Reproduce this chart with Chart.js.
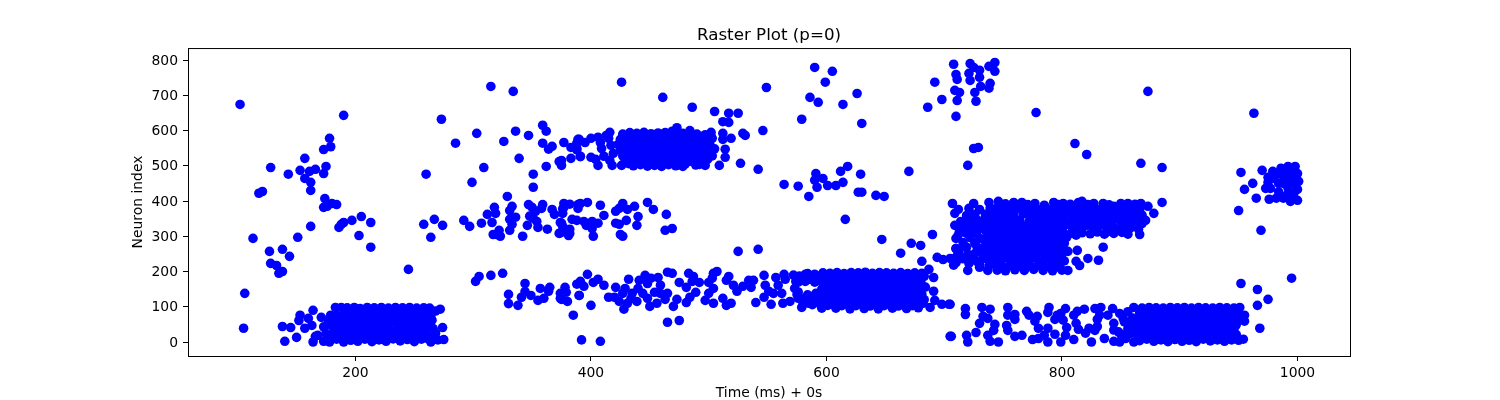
<!DOCTYPE html>
<html>
<head>
<meta charset="utf-8">
<title>Raster Plot</title>
<script src="https://cdn.jsdelivr.net/npm/chart.js@4"></script>
<style>
	body { margin: 0; background: #fff; }
	canvas { display: block; }
</style>
</head>
<body>
<canvas id="myChart" width="1500" height="400"></canvas>
<script>
// [time ms, neuron index]
const earlySpikes = [[102,674],[106,138],[105,39],[190,643],[273,632],[315,725],[334,711],[128,495],[143,476],[157,521],[153,487],[161,484],[166,490],[157,464],[162,453],[162,430],[173,478],[175,498],[173,546],[179,554],[178,578],[118,422],[121,427],[174,407],[173,382],[176,385],[184,390],[180,393],[162,328],[151,297],[113,294],[127,257],[138,263],[144,243],[128,223],[133,217],[135,195],[138,200],[186,325],[190,339],[188,334],[197,345],[205,356],[213,339],[203,302],[213,269],[245,206],[260,476],[258,334],[267,348],[274,331],[264,297]];
const upperDrift = [[285,564],[303,592],[326,569],[336,598],[347,586],[359,615],[362,598],[359,564],[364,547],[367,555],[377,566],[339,521],[309,495],[299,453],[351,476],[351,439],[362,498],[373,512],[375,515],[375,501],[383,521],[383,552],[388,564],[389,575],[388,545],[391,526],[390,575],[400,578],[406,581],[395,566],[388,549],[391,527],[400,524],[404,518],[406,501],[408,566],[409,549],[413,586],[416,595],[415,578],[411,527],[416,515],[418,501],[426,501],[419,535],[417,558],[426,737],[461,694],[486,666],[505,654],[517,649],[525,649],[512,625],[517,623],[549,722],[546,600],[529,592],[531,586],[527,507],[542,490],[519,578],[512,592],[512,575],[514,547],[514,524],[509,501],[497,501],[499,518]];
const middleBand = [[292,345],[297,328],[307,337],[316,339],[312,362],[319,365],[318,382],[317,305],[322,317],[320,305],[323,300],[331,317],[342,300],[333,334],[331,348],[336,354],[331,373],[333,385],[329,413],[346,331],[348,357],[347,390],[350,382],[353,371],[359,390],[358,379],[351,351],[354,342],[355,325],[363,320],[367,376],[369,362],[376,365],[377,393],[382,391],[377,382],[374,339],[376,328],[373,308],[377,320],[382,308],[382,320],[384,348],[388,345],[389,379],[391,393],[397,396],[408,388],[389,390],[376,378],[394,342],[401,342],[406,337],[411,359],[421,371],[427,393],[424,379],[431,376],[437,385],[448,396],[453,376],[440,356],[464,362],[421,337],[424,334],[430,345],[439,331],[463,317],[469,322],[425,305],[427,300],[402,300],[401,322],[396,331],[381,302],[375,337],[374,310]];
const lowerDrift = [[302,172],[305,186],[315,189],[325,195],[330,135],[330,109],[338,104],[344,166],[344,143],[341,127],[349,132],[355,118],[360,124],[357,152],[365,155],[364,144],[374,138],[378,155],[379,141],[375,121],[380,115],[385,76],[388,164],[390,132],[392,6],[408,2],[465,56],[475,61],[400,104],[390,132],[374,124],[391,172],[394,158],[397,192],[402,169],[406,178],[411,161],[415,127],[421,155],[420,127],[424,115],[428,93],[432,178],[429,152],[427,138],[431,110],[435,138],[434,124],[439,115],[441,175],[440,152],[446,189],[448,166],[444,138],[448,124],[450,101],[456,110],[454,141],[457,183],[451,181],[459,161],[465,198],[469,195],[465,138],[459,138],[463,121],[470,101],[473,121],[475,169],[481,155],[483,195],[487,186],[486,172],[492,169],[489,141],[484,127],[481,112],[497,118],[500,138],[504,152],[500,169],[503,181],[504,195],[504,110],[512,124],[515,104],[519,110],[507,200],[517,186],[515,175],[521,161],[524,144],[529,158],[534,175],[538,175],[536,155],[547,189],[548,161],[551,144],[547,127],[540,112],[553,107],[557,183],[564,192],[565,178],[559,161],[555,138],[562,138],[563,110],[569,115],[574,172],[579,98],[573,152],[575,135],[582,192],[591,189],[580,181],[579,124],[585,110],[596,96],[525,257],[542,263]];
const afterBurst = [[683,186],[687,206],[691,183],[691,144],[692,118],[688,98],[698,107],[704,107],[681,229],[705,16],[694,240],[699,234],[705,237],[710,229],[708,218],[663,252],[672,280],[680,274],[647,291],[690,305],[710,265],[564,447],[576,442],[585,413],[592,439],[591,478],[597,464],[590,459],[601,444],[608,444],[614,453],[612,484],[618,498],[629,476],[627,425],[630,425],[642,416],[649,413],[670,484],[616,348],[590,779],[605,768],[599,737],[586,694],[593,680],[614,674],[626,705],[579,632],[630,620],[686,666],[692,737],[698,688],[708,788],[722,790],[743,793],[738,782],[743,768],[725,779],[730,771],[721,762],[710,759],[711,745],[722,742],[730,751],[739,734],[738,720],[731,725],[726,708],[709,714],[713,708],[711,685],[727,683],[710,640],[778,651],[873,711],[963,649],[811,563],[821,532],[867,507],[885,495],[729,552],[725,549],[720,501],[885,396],[878,365],[871,345],[865,320],[866,305],[835,269],[831,232],[822,237],[813,260],[805,257],[815,217],[812,229],[805,203],[800,249]];
const lateSparse = [[705,107],[718,95],[718,78],[732,98],[739,93],[733,73],[730,53],[737,67],[743,50],[742,33],[727,27],[719,19],[720,0],[706,16],[737,19],[739,2],[746,0],[754,98],[754,76],[760,78],[760,64],[753,47],[754,33],[760,16],[766,19],[770,87],[772,76],[779,73],[777,59],[780,39],[789,98],[788,84],[775,7],[780,10],[785,19],[788,39],[794,22],[788,0],[799,0],[796,76],[794,64],[803,95],[799,81],[801,62],[804,41],[803,19],[810,7],[810,76],[813,87],[812,53],[814,36],[819,93],[828,95],[833,98],[832,76],[830,64],[820,25],[825,0],[823,39],[830,44],[836,10],[828,33],[843,95],[844,2],[849,0],[839,76],[844,53],[849,81],[852,67],[848,29],[861,98],[856,86],[853,57],[856,29],[861,0],[854,10],[844,34],[955,76],[955,59],[954,8],[951,98],[952,166],[966,149],[975,121],[966,104],[968,39],[995,181]];
const leftOfBurst = [[138,44],[145,41],[140,2],[150,13],[152,61],[153,76],[157,39],[160,67],[163,47],[164,90],[164,0],[166,16],[171,70],[173,43],[173,2],[178,0],[179,76],[168,19],[175,25],[181,43],[185,15],[190,0],[184,76],[187,58],[183,98],[188,98],[177,60],[182,28],[272,93],[268,88],[274,41],[275,7],[268,25],[264,0],[261,53],[270,6],[265,14],[178,50],[180,14],[176,12],[183,62],[265,62],[266,38],[264,74]];
const burstA = [[193,97],[199,98],[204,95],[210,98],[216,97],[222,98],[228,96],[234,98],[240,97],[246,98],[252,96],[258,97],[263,96],[191,84],[197,86],[203,81],[209,85],[215,82],[221,86],[227,83],[233,80],[239,85],[245,82],[251,86],[257,81],[262,80],[189,68],[195,70],[201,66],[207,71],[213,67],[219,70],[225,65],[231,69],[237,71],[243,66],[249,70],[255,67],[261,65],[186,52],[192,55],[198,50],[204,54],[210,51],[216,55],[222,49],[228,53],[234,56],[240,50],[246,54],[252,52],[258,55],[188,37],[194,39],[200,35],[206,38],[212,34],[218,39],[224,36],[230,33],[236,38],[242,35],[248,39],[254,34],[260,37],[182,22],[188,24],[194,20],[200,23],[206,19],[212,24],[218,21],[224,18],[230,23],[236,20],[242,24],[248,19],[254,23],[260,22],[184,8],[190,10],[196,5],[202,2],[208,8],[214,1],[220,6],[226,2],[232,9],[238,3],[244,7],[250,1],[256,8],[262,9]];
const burstAFill = [[194,91],[200,76],[206,60],[212,44],[218,30],[224,14],[230,90],[236,75],[242,60],[248,44],[254,28],[260,14],[197,28],[203,13],[209,91],[215,74],[221,58],[227,43],[233,27],[239,12],[245,90],[251,76],[257,60],[192,46],[198,62],[192,76],[188,14],[204,44],[216,12],[228,75],[240,42],[252,12],[258,44],[186,36]];
const burstB = [[427,590],[433,594],[439,592],[445,595],[451,591],[457,593],[463,594],[469,598],[473,608],[478,592],[484,600],[490,590],[497,588],[502,595],[425,575],[431,578],[437,574],[443,579],[449,576],[455,573],[461,578],[467,575],[473,580],[479,576],[485,572],[491,577],[497,573],[503,578],[423,560],[429,562],[435,558],[441,563],[447,559],[453,557],[459,562],[465,558],[471,563],[477,559],[483,556],[489,561],[495,557],[501,560],[425,544],[431,546],[437,542],[443,547],[449,543],[455,541],[461,546],[467,542],[473,547],[479,543],[485,540],[491,545],[497,541],[505,548],[427,528],[433,530],[439,526],[445,531],[451,527],[457,525],[463,530],[469,526],[475,531],[481,527],[487,524],[493,529],[503,528],[429,513],[435,515],[441,511],[447,516],[453,512],[459,510],[465,515],[471,511],[477,516],[483,512],[489,508],[495,514],[436,500],[442,503],[448,499],[454,501],[460,498],[466,503],[472,500],[478,498],[489,502]];
const burstBFill = [[430,585],[436,583],[442,586],[448,584],[454,582],[460,585],[466,586],[472,588],[478,584],[484,585],[490,582],[496,581],[502,585],[428,568],[434,569],[440,570],[446,568],[452,566],[458,569],[464,567],[470,570],[476,568],[482,565],[488,569],[494,566],[500,568],[428,552],[434,551],[440,554],[446,552],[452,550],[458,553],[464,550],[470,555],[476,551],[482,549],[488,552],[494,550],[500,552],[428,537],[434,538],[440,535],[446,538],[452,536],[458,535],[464,538],[470,535],[476,538],[482,535],[488,535],[494,537],[430,520],[436,522],[442,519],[448,522],[454,519],[460,518],[466,522],[472,519],[478,522],[484,519],[490,518],[432,506],[444,507],[456,505],[468,507],[480,505],[492,504]];
const burstC = [[572,190],[577,187],[584,194],[590,192],[597,196],[603,195],[609,197],[615,194],[621,197],[627,196],[633,198],[639,195],[645,197],[651,196],[657,195],[663,197],[669,194],[675,196],[681,195],[598,182],[604,180],[610,184],[616,179],[622,183],[628,180],[634,185],[640,181],[646,179],[652,184],[658,180],[664,185],[670,181],[676,179],[680,172],[576,170],[582,172],[590,170],[597,166],[603,168],[609,164],[615,169],[621,165],[627,168],[633,163],[639,167],[645,169],[651,164],[657,168],[663,165],[669,169],[675,163],[681,160],[596,150],[602,152],[608,148],[614,153],[620,149],[626,152],[632,147],[638,151],[644,154],[650,148],[656,152],[662,149],[668,153],[674,147],[680,150],[684,156],[576,142],[584,134],[591,138],[597,135],[603,137],[609,133],[615,138],[621,134],[627,137],[633,132],[639,136],[645,138],[651,133],[657,137],[663,134],[669,138],[675,132],[681,136],[576,124],[582,120],[588,123],[594,120],[600,122],[606,118],[612,123],[618,119],[624,122],[630,117],[636,121],[642,124],[648,118],[654,122],[660,119],[666,123],[672,117],[678,121],[683,120],[580,108],[588,106],[595,107],[601,104],[607,108],[613,103],[619,107],[625,103],[631,106],[637,102],[643,107],[649,103],[655,106],[661,102],[667,107],[673,103],[679,106],[608,96],[620,94],[632,95],[644,94],[656,96],[668,95],[678,97]];
const burstCFill = [[600,188],[606,190],[612,188],[618,187],[624,190],[630,188],[636,190],[642,187],[648,189],[654,188],[660,188],[666,190],[672,188],[678,187],[600,174],[606,173],[612,175],[618,173],[624,175],[630,172],[636,175],[642,173],[648,174],[654,175],[660,172],[666,175],[672,173],[678,168],[599,158],[605,160],[611,157],[617,160],[623,158],[629,160],[635,157],[641,160],[647,158],[653,160],[659,157],[665,160],[671,158],[677,156],[599,143],[605,143],[611,141],[617,144],[623,142],[629,143],[635,141],[641,144],[647,142],[653,144],[659,141],[665,144],[671,142],[677,142],[597,128],[603,129],[609,127],[615,129],[621,127],[627,128],[633,126],[639,129],[645,127],[651,129],[657,127],[663,129],[669,127],[675,126],[681,128],[592,112],[598,113],[604,111],[610,113],[616,111],[622,113],[628,110],[634,113],[640,111],[646,113],[652,111],[658,113],[664,111],[670,113],[676,111],[682,110],[586,178],[592,176],[583,114],[590,130]];
const burstD = [[707,393],[712,376],[725,393],[738,396],[746,399],[752,392],[759,396],[766,396],[771,390],[777,393],[785,388],[793,396],[797,390],[801,393],[807,391],[814,396],[817,399],[822,390],[827,393],[835,393],[840,389],[844,385],[850,393],[856,393],[862,391],[867,393],[873,385],[721,379],[730,376],[709,365],[719,359],[714,342],[709,331],[720,319],[713,314],[710,294],[719,308],[730,294],[710,265],[719,269],[713,263],[720,249],[707,234],[710,225],[721,223],[720,203],[730,212],[726,251],[730,266],[712,252],[710,240],[716,236],[739,380],[745,382],[751,378],[757,381],[763,379],[769,376],[775,380],[781,375],[787,379],[793,377],[799,381],[805,375],[811,379],[817,376],[823,380],[829,377],[835,381],[841,375],[847,379],[853,376],[859,373],[866,376],[735,362],[741,365],[747,361],[753,364],[759,360],[767,363],[773,359],[779,364],[785,360],[791,363],[797,359],[803,364],[809,360],[815,363],[821,358],[827,363],[833,359],[839,362],[845,358],[851,363],[857,359],[863,357],[728,346],[734,348],[740,344],[746,347],[752,343],[758,348],[764,345],[772,342],[778,347],[784,343],[790,346],[796,342],[802,347],[808,343],[814,346],[820,341],[826,345],[832,341],[838,345],[844,347],[850,342],[856,345],[860,340],[868,336],[724,330],[730,333],[736,328],[742,332],[748,329],[754,333],[760,327],[766,331],[772,328],[778,332],[784,326],[790,330],[796,327],[802,331],[808,328],[814,325],[820,330],[826,326],[832,330],[838,326],[844,325],[852,329],[858,324],[728,314],[735,316],[741,312],[747,315],[753,311],[759,314],[765,310],[771,315],[777,311],[783,314],[789,310],[795,315],[801,312],[808,309],[817,310],[824,307],[830,312],[836,306],[844,308],[851,311],[856,306],[738,298],[744,300],[750,296],[756,299],[762,294],[768,298],[774,295],[780,299],[786,294],[792,298],[798,293],[804,297],[812,303],[736,282],[742,284],[748,280],[754,283],[760,279],[766,282],[772,278],[778,283],[784,279],[790,281],[796,277],[802,280],[728,268],[734,270],[740,266],[746,268],[752,264],[758,269],[764,265],[770,268],[776,264],[782,267],[788,263],[794,266],[800,262],[738,252],[744,254],[750,249],[756,253],[762,248],[768,252],[774,249],[780,254],[786,248],[792,252],[798,247],[736,236],[742,238],[748,233],[754,237],[760,232],[766,236],[772,233],[778,237],[784,232],[790,236],[796,233],[802,230],[730,220],[738,216],[744,219],[750,214],[756,218],[762,213],[768,217],[774,214],[780,218],[786,213],[792,217],[798,212],[737,203],[745,204],[752,202],[760,205],[768,203],[776,206],[784,203],[792,202],[800,204]];
const burstDFill = [[724,350],[718,340],[726,362],[716,326],[726,310],[712,304],[722,296],[734,292],[716,282],[726,280],[733,256],[722,238],[728,228],[733,240],[812,338],[838,312],[848,320],[842,336],[848,352],[864,345],[856,372],[868,360]];
const burstE = [[868,96],[874,98],[880,97],[886,96],[892,98],[898,97],[904,98],[910,96],[916,98],[922,97],[928,96],[934,98],[940,97],[946,96],[866,82],[872,84],[878,80],[884,83],[890,79],[896,84],[902,81],[908,78],[914,83],[920,80],[926,84],[932,79],[938,82],[944,80],[950,78],[860,68],[866,70],[872,66],[878,69],[884,65],[890,70],[896,67],[902,64],[908,69],[914,66],[920,70],[926,65],[932,68],[938,66],[944,69],[948,64],[858,52],[864,54],[870,50],[876,53],[882,49],[888,54],[894,51],[900,48],[906,53],[912,50],[918,54],[924,49],[930,52],[936,50],[942,53],[948,49],[856,38],[862,40],[868,36],[874,39],[880,35],[886,40],[892,37],[898,34],[904,39],[910,36],[916,40],[922,35],[928,38],[934,36],[940,39],[946,34],[850,22],[858,24],[864,20],[870,23],[876,19],[882,24],[888,21],[894,18],[900,23],[906,20],[912,24],[918,19],[924,22],[930,20],[936,23],[942,19],[948,21],[866,4],[872,8],[878,2],[884,6],[890,1],[896,7],[902,2],[908,5],[914,1],[920,8],[926,3],[932,6],[938,2],[944,6],[950,5]];
const burstEFill = [[870,90],[882,90],[894,91],[906,89],[918,90],[930,91],[942,89],[869,75],[881,74],[893,75],[905,72],[917,75],[929,73],[941,74],[867,60],[879,60],[891,61],[903,58],[915,60],[927,59],[939,60],[867,45],[879,44],[891,44],[903,42],[915,45],[927,43],[939,44],[865,30],[877,29],[889,29],[901,28],[913,30],[925,28],[937,29],[869,12],[881,13],[893,11],[905,12],[917,12],[929,13],[941,12]];
const burstF = [[952,481],[955,433],[962,450],[965,408],[970,487],[950,373],[969,317],[973,436],[976,405],[979,484],[986,493],[992,498],[998,498],[1000,478],[1001,456],[1000,433],[1000,402],[994,399],[988,408],[982,408],[975,467],[975,453],[980,464],[984,478],[988,470],[992,478],[995,461],[997,450],[992,436],[988,450],[984,450],[997,422],[991,417],[994,488],[997,467],[980,478],[977,436],[984,426],[992,460]];

const spikes = [].concat(earlySpikes, upperDrift, middleBand, lowerDrift, afterBurst, lateSparse, leftOfBurst, burstA, burstAFill, burstB, burstBFill, burstC, burstCFill, burstD, burstDFill, burstE, burstEFill, burstF);
const xTicks = [200, 400, 600, 800, 1000];
const yTicks = [0, 100, 200, 300, 400, 500, 600, 700, 800];

const tickFont = { family: '"DejaVu Sans"', size: 13.9 };

// full box round the axes, like the original figure
const frame = {
	id: 'frame',
	afterDraw: function (chart) {
		const a = chart.chartArea;
		const ctx = chart.ctx;
		ctx.save();
		ctx.strokeStyle = '#000';
		ctx.lineWidth = 1;
		ctx.strokeRect(a.left + 0.5, a.top + 0.5, a.right - a.left, a.bottom - a.top);
		ctx.restore();
	}
};

new Chart(document.getElementById('myChart'), {
	type: 'scatter',
	data: {
		datasets: [{
			data: spikes.map(function (s) { return { x: s[0], y: s[1] }; }),
			backgroundColor: '#0000ff',
			borderWidth: 0,
			pointRadius: 4.8,
			clip: false
		}]
	},
	options: {
		responsive: false,
		animation: false,
		layout: { padding: { left: 130, right: 150, top: 0, bottom: 0 } },
		plugins: {
			legend: { display: false },
			tooltip: { enabled: false },
			title: {
				display: true,
				text: 'Raster Plot (p=0)',
				color: '#000',
				fullSize: false,
				font: { family: '"DejaVu Sans"', size: 16.7, weight: 'normal' },
				padding: { top: 26, bottom: 2 }
			}
		},
		scales: {
			x: {
				type: 'linear',
				min: 57.8,
				max: 1044.6,
				afterFit: function (scale) { scale.height = 44; },
				afterBuildTicks: function (scale) { scale.ticks = xTicks.map(function (v) { return { value: v }; }); },
				title: { display: true, text: 'Time (ms) + 0s', color: '#000', font: tickFont, padding: { top: 0, bottom: -2 } },
				grid: { drawOnChartArea: false, tickColor: '#000', tickLength: 5 },
				border: { color: '#000' },
				ticks: { color: '#000', font: tickFont, padding: 4, maxRotation: 0, autoSkip: false, callback: function (v) { return String(v); } }
			},
			y: {
				min: -39.7,
				max: 834,
				afterFit: function (scale) { scale.width = 58; },
				afterBuildTicks: function (scale) { scale.ticks = yTicks.map(function (v) { return { value: v }; }); },
				title: { display: true, text: 'Neuron index', color: '#000', font: tickFont, padding: 0 },
				grid: { drawOnChartArea: false, tickColor: '#000', tickLength: 5 },
				border: { color: '#000' },
				ticks: { color: '#000', font: tickFont, padding: 5, labelOffset: 1, autoSkip: false }
			}
		}
	},
	plugins: [frame]
});
</script>
</body>
</html>
